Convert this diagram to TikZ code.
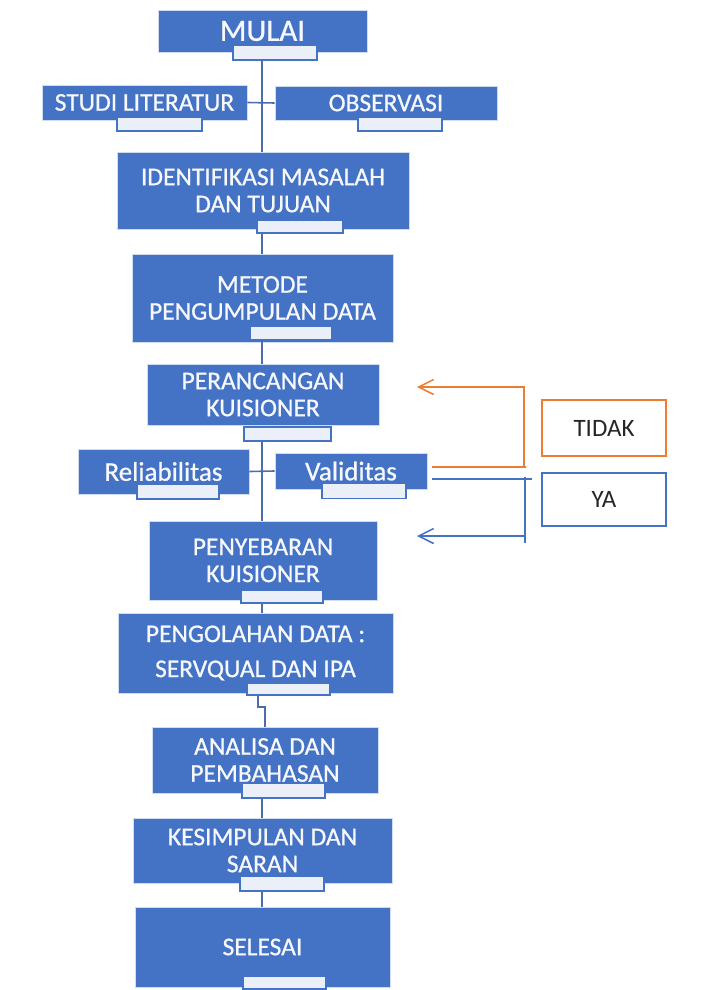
\documentclass[tikz,border=0pt]{standalone}
\usepackage{fontspec}
\setmainfont{Carlito}
\newfontfamily\boxfont[FakeBold=0.8]{Carlito}
\usetikzlibrary{arrows.meta}
\definecolor{boxblue}{HTML}{4472C4}
\definecolor{subfill}{HTML}{EAEFF8}
\definecolor{linkblue}{HTML}{4A6DB0}
\definecolor{fborange}{HTML}{ED7D31}
\tikzset{
  box/.style={rectangle, fill=boxblue, draw=white!75!boxblue, line width=0.6pt,
    inner sep=0pt, align=center, text=white!95!boxblue,
    font=\boxfont\fontsize{25.5}{27}\selectfont},
  subbox/.style={rectangle, fill=subfill, draw=boxblue, line width=1.2pt, inner sep=0pt},
  link/.style={draw=linkblue, line width=1.6pt},
  fbo/.style={draw=fborange, line width=1.5pt},
  fbb/.style={draw=boxblue, line width=1.5pt},
  tip/.style={-{Straight Barb[length=15pt,width=15pt,line width=1.5pt]}},
  label/.style={rectangle, fill=white, line width=1.5pt, inner sep=0pt,
    font=\fontsize{25}{26}\selectfont, text=black!85}
}
\begin{document}
\begin{tikzpicture}[x=1pt,y=-1pt]
\useasboundingbox (0,0) rectangle (705,990);
% boxes: center at ((l+r)/2,(t+b)/2)
\node[box, minimum width=209, minimum height=42, font=\boxfont\fontsize{31}{32}\selectfont] (mulai) at (262.5,31) {MULAI};
\node[subbox, minimum width=84, minimum height=15] (mulai-s) at (275,52.5) {};

\node[box, minimum width=205, minimum height=35] (studi) at (144.5,102.5) {STUDI LITERATUR};
\node[subbox, minimum width=85, minimum height=14] (studi-s) at (159.5,124) {};
\node[box, minimum width=222, minimum height=34] (obs) at (386,103) {OBSERVASI};
\node[subbox, minimum width=84, minimum height=14] (obs-s) at (400,124) {};

\node[box, minimum width=292, minimum height=77] (ident) at (263,190.5) {IDENTIFIKASI MASALAH\\DAN TUJUAN};
\node[subbox, minimum width=86, minimum height=13] (ident-s) at (300,226.5) {};

\node[box, minimum width=261, minimum height=88] (metode) at (262.5,298) {METODE\\PENGUMPULAN DATA};
\node[subbox, minimum width=82, minimum height=13] (metode-s) at (291,333) {};

\node[box, minimum width=232, minimum height=61] (peran) at (263,394.5) {PERANCANGAN\\KUISIONER};
\node[subbox, minimum width=87, minimum height=14] (peran-s) at (287.5,434) {};

\node[box, minimum width=171, minimum height=45, font=\boxfont\fontsize{27}{28}\selectfont] (rel) at (163.5,471.5) {Reliabilitas};
\node[subbox, minimum width=82, minimum height=15] (rel-s) at (178,491.5) {};
\node[box, minimum width=152, minimum height=36, font=\boxfont\fontsize{27}{28}\selectfont] (val) at (351,471) {Validitas};
\node[subbox, minimum width=84, minimum height=15] (val-s) at (364,491) {};

\node[box, minimum width=228, minimum height=79] (penye) at (263,560.5) {PENYEBARAN\\KUISIONER};
\node[subbox, minimum width=82, minimum height=13] (penye-s) at (282,596.5) {};

\node[box, minimum width=275, minimum height=80, font=\boxfont\fontsize{25.5}{35}\selectfont] (olah) at (255.5,653) {PENGOLAHAN DATA :\\SERVQUAL DAN IPA};
\node[subbox, minimum width=83, minimum height=12] (olah-s) at (288.5,689) {};

\node[box, minimum width=226, minimum height=66] (analisa) at (265,760) {ANALISA DAN\\PEMBAHASAN};
\node[subbox, minimum width=83, minimum height=15] (analisa-s) at (283.5,790.5) {};

\node[box, minimum width=259, minimum height=65] (kesim) at (262.5,850.5) {KESIMPULAN DAN\\SARAN};
\node[subbox, minimum width=84, minimum height=15] (kesim-s) at (282,883.5) {};

\node[box, minimum width=255, minimum height=80] (selesai) at (262.5,947) {SELESAI};
\node[subbox, minimum width=83, minimum height=13] (selesai-s) at (284.5,982.5) {};

% spine coordinates
\coordinate (sp) at (262,0);
\coordinate (j1) at (258,707);
\coordinate (j2) at (265,707);

% connectors
\draw[link] (mulai-s.south -| sp) -- (ident.north -| sp);
\draw[link] (studi.east) -- (obs.west);
\draw[link] (ident-s.south -| sp) -- (metode.north -| sp);
\draw[link] (metode-s.south -| sp) -- (peran.north -| sp);
\draw[link] (peran-s.south -| sp) -- (penye.north -| sp);
\draw[link] (rel.east) -- (val.west);
\draw[link] (penye-s.south -| sp) -- (olah.north -| sp);
\draw[link] (olah-s.south -| j1) -- (j1) -- (j2) -- (analisa.north -| j2);
\draw[link] (analisa-s.south -| sp) -- (kesim.north -| sp);
\draw[link] (kesim-s.south -| sp) -- (selesai.north -| sp);

% feedback labels
\node[label, draw=fborange, minimum width=124, minimum height=56] (tidak) at (604,428) {TIDAK};
\node[label, draw=boxblue, minimum width=124, minimum height=53] (ya) at (604,499.5) {YA};

% feedback lines
\coordinate (o1) at (432,467);
\coordinate (o2) at (526,467);
\coordinate (o3) at (524,467);
\coordinate (otip) at (417,387);
\draw[fbo] (o1) -- (o2);
\draw[fbo, tip] (o3) |- (otip);

\coordinate (b1) at (432,479);
\coordinate (b2) at (532,479);
\coordinate (b3) at (525,477);
\coordinate (b4) at (525,543);
\coordinate (b5) at (525,536);
\coordinate (btip) at (417,536);
\draw[fbb] (b1) -- (b2);
\draw[fbb] (b3) -- (b4);
\draw[fbb, tip] (b5) -- (btip);
\end{tikzpicture}
\end{document}
